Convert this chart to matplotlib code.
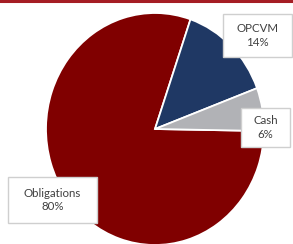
import matplotlib
matplotlib.use("Agg")
import matplotlib.pyplot as plt
from matplotlib.patches import Rectangle

categories = ['Obligations', 'OPCVM', 'Cash']
shares = [80, 14, 6]
colors = ['#800000', '#1f3864', '#b1b2b6']

W, H = 293, 244
fig = plt.figure(figsize=(W / 100, H / 100), dpi=100)

# pie centre ~ (155,129) px, slightly taller than wide
cx, cy, rx, ry = 155, 129, 109, 116
ax = fig.add_axes([(cx - rx) / W, (H - cy - ry) / H, 2 * rx / W, 2 * ry / H])
ax.pie(shares, colors=colors, startangle=-1, counterclock=False,
       wedgeprops=dict(edgecolor='white', linewidth=1.3))
ax.set_xlim(-1, 1)
ax.set_ylim(-1, 1)
ax.set_aspect('auto')
ax.axis('off')

# red rule at the top
fig.add_artist(plt.Line2D([0, 1], [1 - 1 / H, 1 - 1 / H], transform=fig.transFigure,
                          color='#a51d24', linewidth=2.2))

# label boxes (pixel boxes: left, top, right, bottom)
boxes = {
    'Obligations': (8, 177, 97, 223),
    'OPCVM': (223, 14, 292, 57),
    'Cash': (241, 108, 290, 147),
}
for name, val in zip(categories, shares):
    x0, y0, x1, y1 = boxes[name]
    fig.add_artist(Rectangle((x0 / W, 1 - y1 / H), (x1 - x0) / W, (y1 - y0) / H,
                             transform=fig.transFigure, facecolor='white',
                             edgecolor='#cfcfcf', linewidth=1))
    fig.text((x0 + x1) / 2 / W, 1 - (y0 + y1) / 2 / H, f'{name}\n{val}%',
             ha='center', va='center', multialignment='center',
             fontsize=8.3, color='#404040', family='Lato', linespacing=1.25)

fig.savefig('out.png', dpi=100)
